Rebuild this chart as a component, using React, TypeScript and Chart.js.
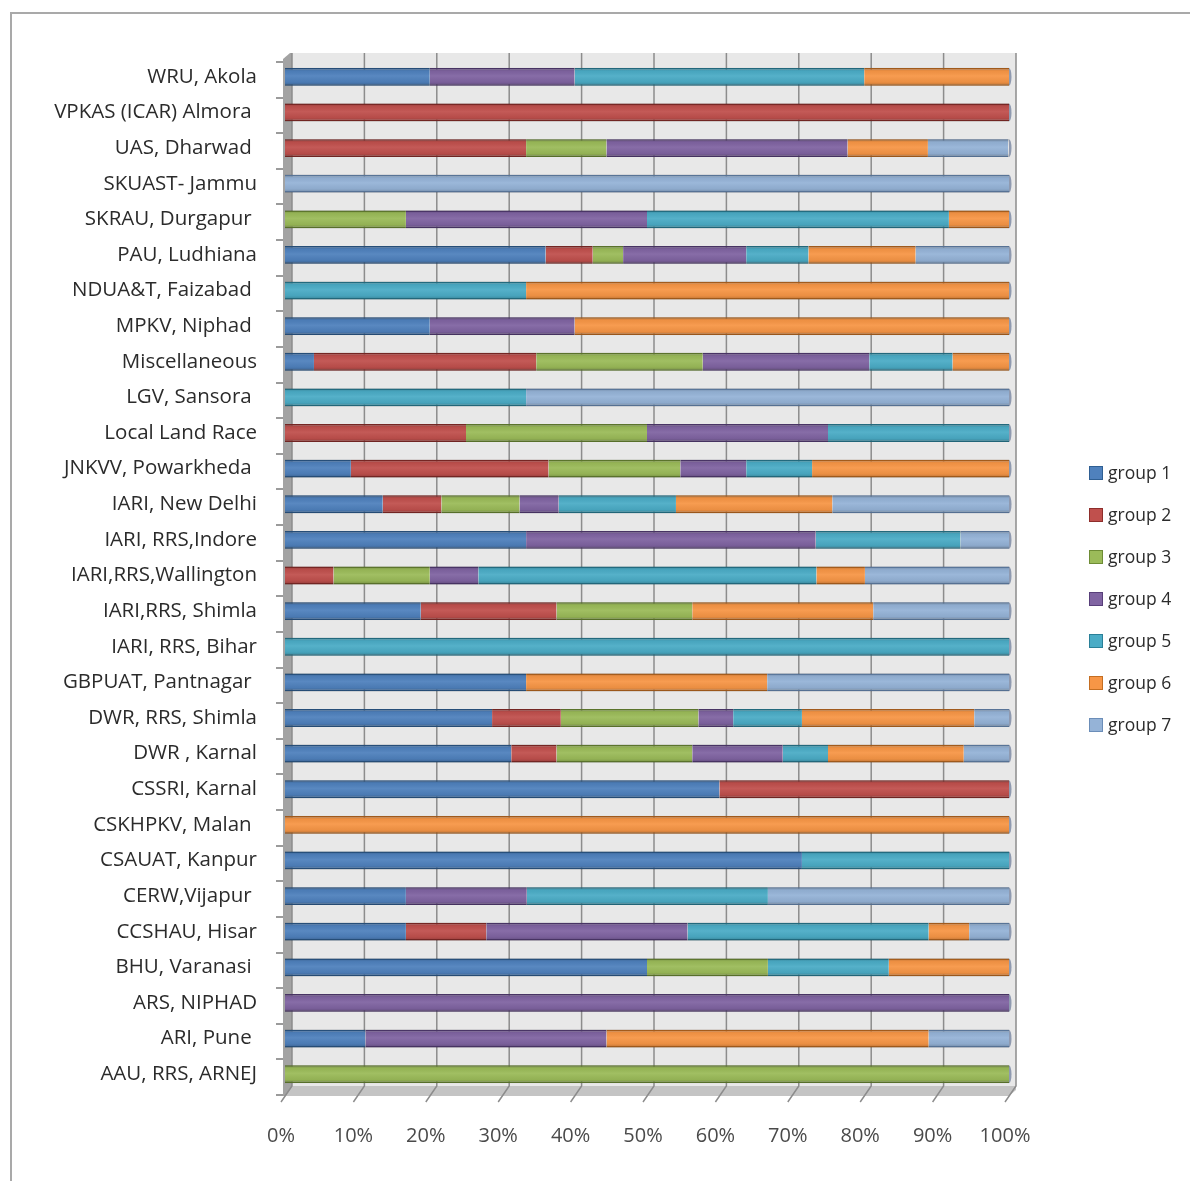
import { useEffect, useRef } from "react";
import { Chart, registerables } from "chart.js";

Chart.register(...registerables);

// Institutions, listed top to bottom
const categories = [
  "WRU, Akola",
  "VPKAS (ICAR) Almora ",
  "UAS, Dharwad ",
  "SKUAST- Jammu",
  "SKRAU, Durgapur ",
  "PAU, Ludhiana",
  "NDUA&T, Faizabad ",
  "MPKV, Niphad ",
  "Miscellaneous",
  "LGV, Sansora ",
  "Local Land Race",
  "JNKVV, Powarkheda ",
  "IARI, New Delhi",
  "IARI, RRS,Indore",
  "IARI,RRS,Wallington",
  "IARI,RRS, Shimla",
  "IARI, RRS, Bihar",
  "GBPUAT, Pantnagar ",
  "DWR, RRS, Shimla",
  "DWR , Karnal",
  "CSSRI, Karnal",
  "CSKHPKV, Malan ",
  "CSAUAT, Kanpur",
  "CERW,Vijapur ",
  "CCSHAU, Hisar",
  "BHU, Varanasi ",
  "ARS, NIPHAD",
  "ARI, Pune ",
  "AAU, RRS, ARNEJ",
];

// Share (%) of each group per institution, same order as categories
const group1 = [20, 0, 0, 0, 0, 36, 0, 20, 4, 0, 0, 9.1, 13.5, 33.3, 0, 18.75, 0, 33.3, 28.6, 31.25, 60, 0, 71.4, 16.7, 16.7, 50, 0, 11.1, 0];
const group2 = [0, 100, 33.3, 0, 0, 6.5, 0, 0, 30.7, 0, 25, 27.3, 8.1, 0, 6.7, 18.75, 0, 0, 9.5, 6.25, 40, 0, 0, 0, 11.1, 0, 0, 0, 0];
const group3 = [0, 0, 11.1, 0, 16.7, 4.2, 0, 0, 23, 0, 25, 18.2, 10.8, 0, 13.3, 18.75, 0, 0, 19, 18.75, 0, 0, 0, 0, 0, 16.7, 0, 0, 100];
const group4 = [20, 0, 33.3, 0, 33.3, 17, 0, 20, 23, 0, 25, 9.1, 5.4, 40, 6.7, 0, 0, 0, 4.8, 12.5, 0, 0, 0, 16.7, 27.8, 0, 100, 33.3, 0];
const group5 = [40, 0, 0, 0, 41.7, 8.6, 33.3, 0, 11.5, 33.3, 25, 9.1, 16.2, 20, 46.7, 0, 100, 0, 9.5, 6.25, 0, 0, 28.6, 33.3, 33.3, 16.7, 0, 0, 0];
const group6 = [20, 0, 11.1, 0, 8.3, 14.8, 66.7, 60, 7.8, 0, 0, 27.2, 21.6, 0, 6.7, 25, 0, 33.3, 23.8, 18.75, 0, 100, 0, 0, 5.6, 16.6, 0, 44.5, 0];
const group7 = [0, 0, 11.1, 100, 0, 12.9, 0, 0, 0, 66.7, 0, 0, 24.4, 6.7, 19.9, 18.75, 0, 33.4, 4.8, 6.25, 0, 0, 0, 33.3, 5.5, 0, 0, 11.1, 0];

const groupNames = ["group 1", "group 2", "group 3", "group 4", "group 5", "group 6", "group 7"];
const groupValues = [group1, group2, group3, group4, group5, group6, group7];
const groupColors = ["#4F81BD", "#C0504D", "#9BBB59", "#8064A2", "#4BACC6", "#F79646", "#95B3D7"];
const groupEdges = ["#2F5F93", "#8E2E2B", "#6E8C35", "#583F7A", "#2A8098", "#C46E22", "#6B8DB8"];

const xTickValues = [0, 10, 20, 30, 40, 50, 60, 70, 80, 90, 100];

const FONT = '"Open Sans", "DejaVu Sans", sans-serif';
const DX = 7; // depth offset of the back wall, x
const DY = 6; // depth offset of the back wall, y

// Back wall, side wall, floor and gridlines of the pseudo-3D plot box
const wallPlugin = {
  id: "wall3d",
  beforeDatasetsDraw(chart: any) {
    const { ctx, chartArea: a, scales } = chart;
    const x = scales.x;
    const y = scales.y;
    const x0 = x.getPixelForValue(0);
    const x1 = x.getPixelForValue(100);
    ctx.save();
    // back wall
    ctx.fillStyle = "#e8e8e8";
    ctx.fillRect(x0 + DX, a.top - DY, x1 - x0, a.bottom - a.top);
    // floor
    ctx.fillStyle = "#c4c4c4";
    ctx.beginPath();
    ctx.moveTo(x0, a.bottom);
    ctx.lineTo(x0 + DX, a.bottom - DY);
    ctx.lineTo(x1 + DX, a.bottom - DY);
    ctx.lineTo(x1 + DX, a.bottom - DY + 4);
    ctx.lineTo(x1, a.bottom + 4);
    ctx.lineTo(x0, a.bottom + 4);
    ctx.closePath();
    ctx.fill();
    // side wall
    ctx.fillStyle = "#a3a3a3";
    ctx.beginPath();
    ctx.moveTo(x0 - 2, a.top);
    ctx.lineTo(x0 + DX - 2, a.top - DY);
    ctx.lineTo(x0 + DX, a.top - DY);
    ctx.lineTo(x0 + DX, a.bottom - DY);
    ctx.lineTo(x0, a.bottom + 4);
    ctx.lineTo(x0 - 2, a.bottom + 4);
    ctx.closePath();
    ctx.fill();
    // gridlines on the back wall, across the floor and down to the labels
    ctx.strokeStyle = "#8c8c8c";
    ctx.lineWidth = 1.5;
    xTickValues.forEach((v) => {
      const px = x.getPixelForValue(v) + DX;
      ctx.beginPath();
      ctx.moveTo(px, a.top - DY);
      ctx.lineTo(px, a.bottom - DY);
      ctx.lineTo(px - DX - 4, a.bottom + 10);
      ctx.stroke();
    });
    // category tick marks between rows, left of the side wall
    ctx.strokeStyle = "#7a7a7a";
    ctx.lineWidth = 1.5;
    const step = (a.bottom - a.top) / categories.length;
    for (let i = 0; i <= categories.length; i++) {
      const ty = Math.round(y.getPixelForValue(0) - step / 2 + i * step) + 3;
      ctx.beginPath();
      ctx.moveTo(x0 - 9, ty);
      ctx.lineTo(x0 - 2, ty);
      ctx.stroke();
    }
    ctx.restore();
  },
  afterDatasetsDraw(chart: any) {
    // cylinder-like shading over each bar, with a darker end cap
    const { ctx, scales } = chart;
    const x = scales.x;
    const x0 = x.getPixelForValue(0);
    const x1 = x.getPixelForValue(100);
    const meta = chart.getDatasetMeta(0);
    ctx.save();
    meta.data.forEach((bar: any) => {
      const h = bar.height;
      const top = bar.y - h / 2;
      const g = ctx.createLinearGradient(0, top, 0, top + h);
      g.addColorStop(0, "rgba(0,0,0,0.22)");
      g.addColorStop(0.18, "rgba(0,0,0,0.04)");
      g.addColorStop(0.45, "rgba(255,255,255,0.06)");
      g.addColorStop(0.8, "rgba(0,0,0,0.05)");
      g.addColorStop(1, "rgba(0,0,0,0.25)");
      ctx.fillStyle = g;
      ctx.fillRect(x0, top, x1 - x0, h);
      ctx.fillStyle = "rgba(70,90,130,0.55)";
      ctx.beginPath();
      ctx.ellipse(x1, bar.y, 2.5, h / 2, 0, -Math.PI / 2, Math.PI / 2);
      ctx.fill();
    });
    ctx.restore();
  },
};

// Legend drawn at the right side from the dataset labels and colours
const sideLegendPlugin = {
  id: "sideLegend",
  afterDraw(chart: any) {
    const { ctx } = chart;
    ctx.save();
    ctx.font = `17.5px ${FONT}`;
    ctx.textBaseline = "middle";
    ctx.textAlign = "left";
    chart.data.datasets.forEach((ds: any, i: number) => {
      const cy = 473 + i * 42;
      ctx.fillStyle = ds.backgroundColor;
      ctx.fillRect(1089, cy - 7, 14, 14);
      ctx.strokeStyle = ds.borderColor;
      ctx.lineWidth = 1;
      ctx.strokeRect(1089.5, cy - 6.5, 13, 13);
      ctx.fillStyle = "#2b2b2b";
      ctx.fillText(ds.label, 1108, cy + 1);
    });
    ctx.restore();
  },
};

export default function App() {
  const canvasRef = useRef<HTMLCanvasElement | null>(null);

  useEffect(() => {
    if (!canvasRef.current) return;
    const chart = new Chart(canvasRef.current, {
      type: "bar",
      data: {
        labels: categories,
        datasets: groupNames.map((name, i) => ({
          label: name,
          data: groupValues[i].map((v) => (v === 0 ? null : v)),
          backgroundColor: groupColors[i],
          borderColor: groupEdges[i],
          borderWidth: { top: 1.5, bottom: 1.5, left: 0, right: 0 },
          borderSkipped: false,
          barPercentage: 0.5,
          categoryPercentage: 1,
        })),
      },
      options: {
        indexAxis: "y",
        responsive: false,
        animation: false,
        layout: { padding: { top: 59, right: 181, bottom: 0, left: 0 } },
        plugins: {
          legend: { display: false },
          tooltip: { enabled: false },
        },
        scales: {
          x: {
            stacked: true,
            min: 0,
            max: 100,
            afterFit: (scale: any) => {
              scale.height = 89;
            },
            grid: { display: false, drawTicks: false },
            border: { display: false },
            ticks: {
              stepSize: 10,
              padding: 32,
              labelOffset: -4,
              color: "#4a4a4a",
              font: { family: FONT, size: 20 },
              callback: (v: any) => `${v}%`,
            },
          },
          y: {
            stacked: true,
            afterFit: (scale: any) => {
              scale.width = 285;
            },
            grid: { display: false, drawTicks: false },
            border: { display: false },
            ticks: {
              padding: 28,
              color: "#2b2b2b",
              font: { family: FONT, size: 20.5 },
              autoSkip: false,
            },
          },
        },
      },
      plugins: [wallPlugin, sideLegendPlugin],
    });
    return () => chart.destroy();
  }, []);

  return (
    <div style={{ position: "absolute", left: 0, top: 0, width: 1190, height: 1181, background: "#ffffff", overflow: "hidden" }}>
      <div
        style={{
          position: "absolute",
          left: 10,
          top: 12,
          width: 1200,
          height: 1200,
          borderTop: "2px solid #a9a9a9",
          borderLeft: "2px solid #a9a9a9",
        }}
      />
      <canvas ref={canvasRef} width={1190} height={1181} style={{ position: "absolute", left: 0, top: 0 }} />
    </div>
  );
}
